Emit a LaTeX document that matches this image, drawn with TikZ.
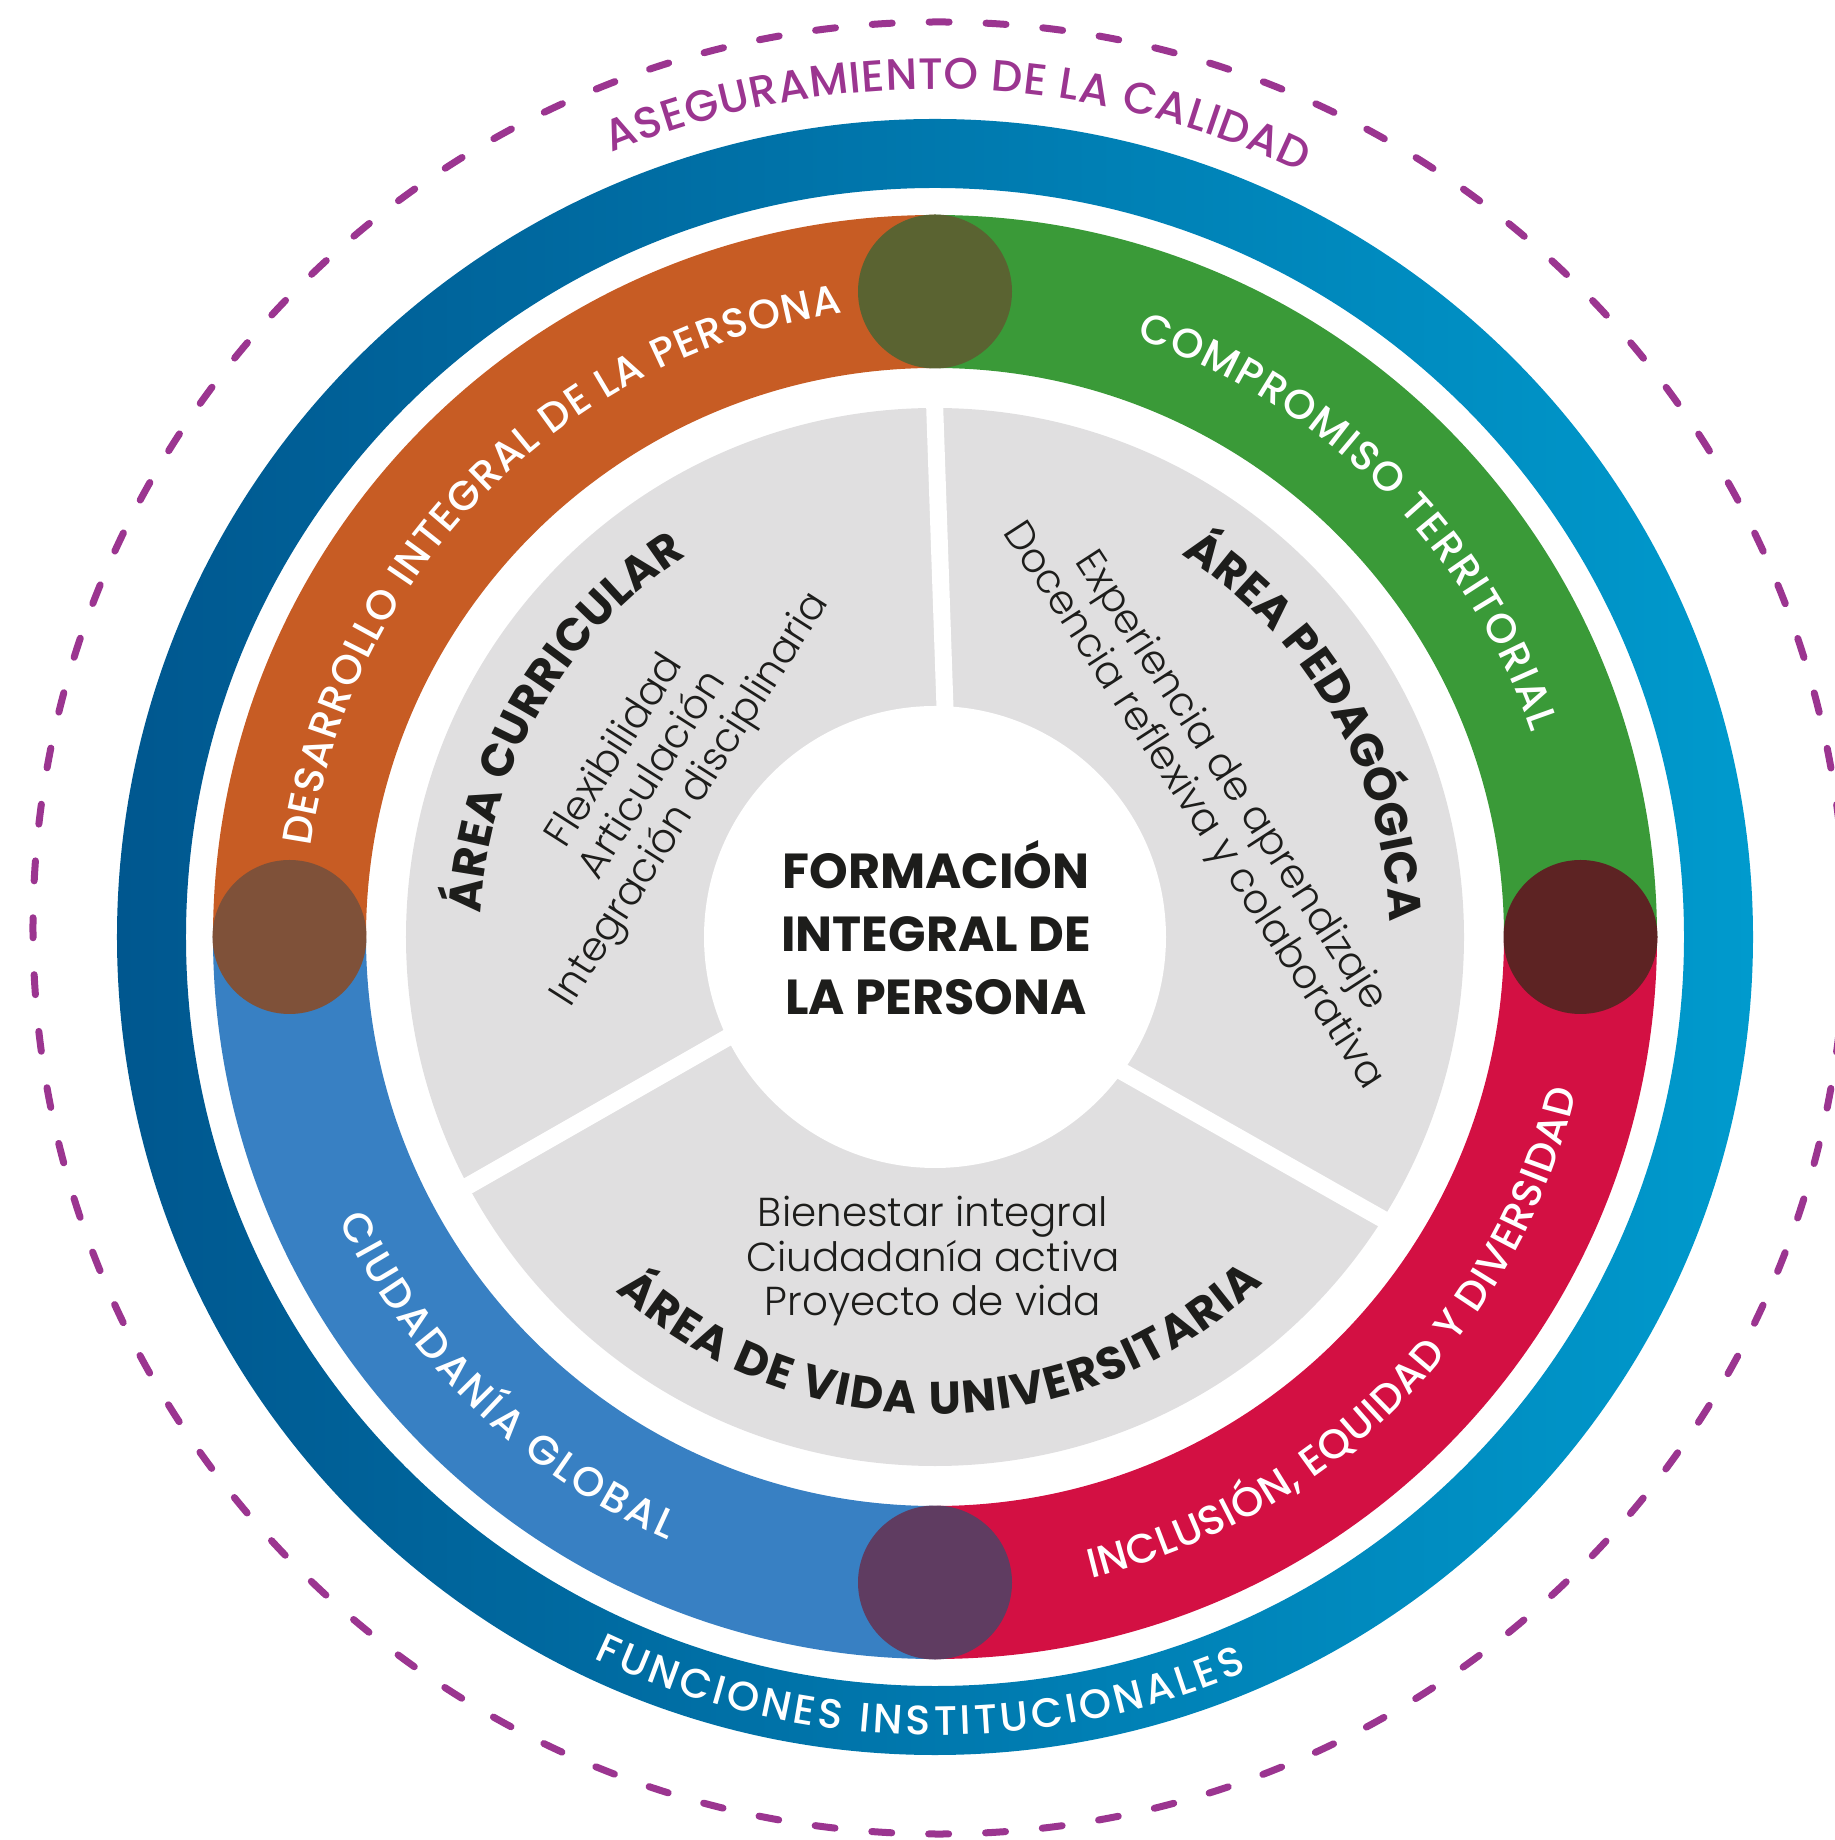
\documentclass[tikz,border=0pt]{standalone}
\usepackage{fontspec}
\setmainfont{Poppins}
\newfontfamily\popligera{Poppins Light}
\newfontfamily\popmedia{Poppins Medium}
\usetikzlibrary{decorations.text}
\definecolor{morado}{HTML}{9B3590}
\definecolor{azulosc}{HTML}{00578F}
\definecolor{azulcla}{HTML}{009ACD}
\definecolor{naranja}{HTML}{C75C24}
\definecolor{verde}{HTML}{3A9A38}
\definecolor{rojo}{HTML}{D31043}
\definecolor{azul}{HTML}{3880C3}
\definecolor{olivo}{HTML}{5A6331}
\definecolor{cafe}{HTML}{7F5139}
\definecolor{granate}{HTML}{5D2323}
\definecolor{ciruela}{HTML}{5F3C61}
\definecolor{gris}{HTML}{E0DFE0}
\definecolor{texto}{HTML}{1D1D1B}
\newcommand\anillofont{\popmedia\fontsize{11.7}{14}\selectfont}
\newcommand\calidadfont{\popmedia\fontsize{12.5}{15}\selectfont}
\newcommand\areafont{\fontsize{13}{15}\selectfont\bfseries}
\newcommand\listafont{\popligera\fontsize{11.5}{12.7}\selectfont}
\newcommand\titulofont{\fontsize{14}{17.9}\selectfont\bfseries}
\tikzset{
  anillo/.style={decorate, decoration={text along path, text={|\anillofont|#1}, text align=fit to path, text color=white}},
  area/.style={decorate, decoration={text along path, text={|\areafont|#1}, text align=fit to path, text color=texto}},
  punto/.style={circle, inner sep=0pt, minimum size=1.54cm},
  lista/.style={text=texto, align=center, font=\listafont},
  separa/.style={white, line width=0.17cm}
}
\begin{document}
\begin{tikzpicture}
			\useasboundingbox (-9.35,-9.03) rectangle (8.99,9.37);
			% Dashed circle (quality)
			\draw[morado, line width=0.07cm, line cap=round, dash pattern=on 0.2cm off 0.3693cm, dash phase=0.1cm] (0.04,0.09) circle (9.06);
			\path[decorate, decoration={text along path, text={|\calidadfont|ASEGURAMIENTO DE LA CALIDAD}, text align=fit to path, text color=morado}] (112.4:8.48) arc[start angle=112.4, end angle=64.4, radius=8.48];

			% Outer blue ring
			\shade[left color=azulosc, right color=azulcla, even odd rule] (0,0) circle (8.18) (0,0) circle (7.49);
			\path[anillo={FUNCIONES INSTITUCIONALES}] (244.7:7.98) arc[start angle=244.7, end angle=293, radius=7.98];

			% Coloured ring in four quarters
			\foreach \a/\col in {0/verde, 90/naranja, 180/azul, 270/rojo}
			\fill[\col] (\a:7.22) arc[start angle=\a, delta angle=90, radius=7.22] -- (\a+90:5.69) arc[start angle=\a+90, delta angle=-90, radius=5.69] -- cycle;

			% Joints between the quarters
			\foreach \a/\col/\nom in {0/granate/este, 90/olivo/norte, 180/cafe/oeste, 270/ciruela/sur}
			\node[punto, fill=\col] (\nom) at (\a:6.455) {};

			% Labels of the ring
			\path[anillo={DESARROLLO INTEGRAL DE LA PERSONA}] (171.8:6.31) arc[start angle=171.8, end angle=98.5, radius=6.31];
			\path[anillo={COMPROMISO TERRITORIAL}] (71.4:6.31) arc[start angle=71.4, end angle=18.9, radius=6.31];
			\path[anillo={INCLUSIÓN, EQUIDAD Y DIVERSIDAD}] (283.7:6.6) arc[start angle=283.7, end angle=346.4, radius=6.6];
			\path[anillo={CIUDADANÍA GLOBAL}] (205.4:6.6) arc[start angle=205.4, end angle=246.1, radius=6.6];

			% Grey disc with three areas
			\fill[gris] (0,0) circle (5.29);
			\coordinate (s1a) at (0.11,2.0);
			\coordinate (s1b) at (-0.01,5.5);
			\coordinate (s2a) at (-1.82,-0.86);
			\coordinate (s2b) at (-4.83,-2.58);
			\coordinate (s3a) at (1.65,-1.22);
			\coordinate (s3b) at (4.67,-2.93);
			\draw[separa] (s1a) -- (s1b);
			\draw[separa] (s2a) -- (s2b);
			\draw[separa] (s3a) -- (s3b);
			\fill[white] (0,0) circle (2.31);

			% Names of the areas
			\path[area={ÁREA CURRICULAR}] (177:4.55) arc[start angle=177, end angle=123, radius=4.55];
			\path[area={ÁREA PEDAGÓGICA}] (57.2:4.55) arc[start angle=57.2, end angle=1.9, radius=4.55];
			\path[area={ÁREA DE VIDA UNIVERSITARIA}] (227.9:4.77) arc[start angle=227.9, end angle=313.5, radius=4.77];

			% Contents of the areas
			\node[lista, rotate=57.5] (curricular) at (-2.81,1.61) {Flexibilidad\\Articulación\\Integración disciplinaria};
			\node[lista, rotate=-57] (pedagogica) at (2.76,1.43) {Experiencia de aprendizaje\\Docencia reflexiva y colaborativa};
			\node[lista] (vida) at (-0.02,-3.24) {Bienestar integral\\Ciudadanía activa\\Proyecto de vida};

			% Centre
			\node[text=texto, align=center, font=\titulofont] (formacion) at (0.01,0.09) {FORMACIÓN\\INTEGRAL DE\\LA PERSONA};
		\end{tikzpicture}
\end{document}
